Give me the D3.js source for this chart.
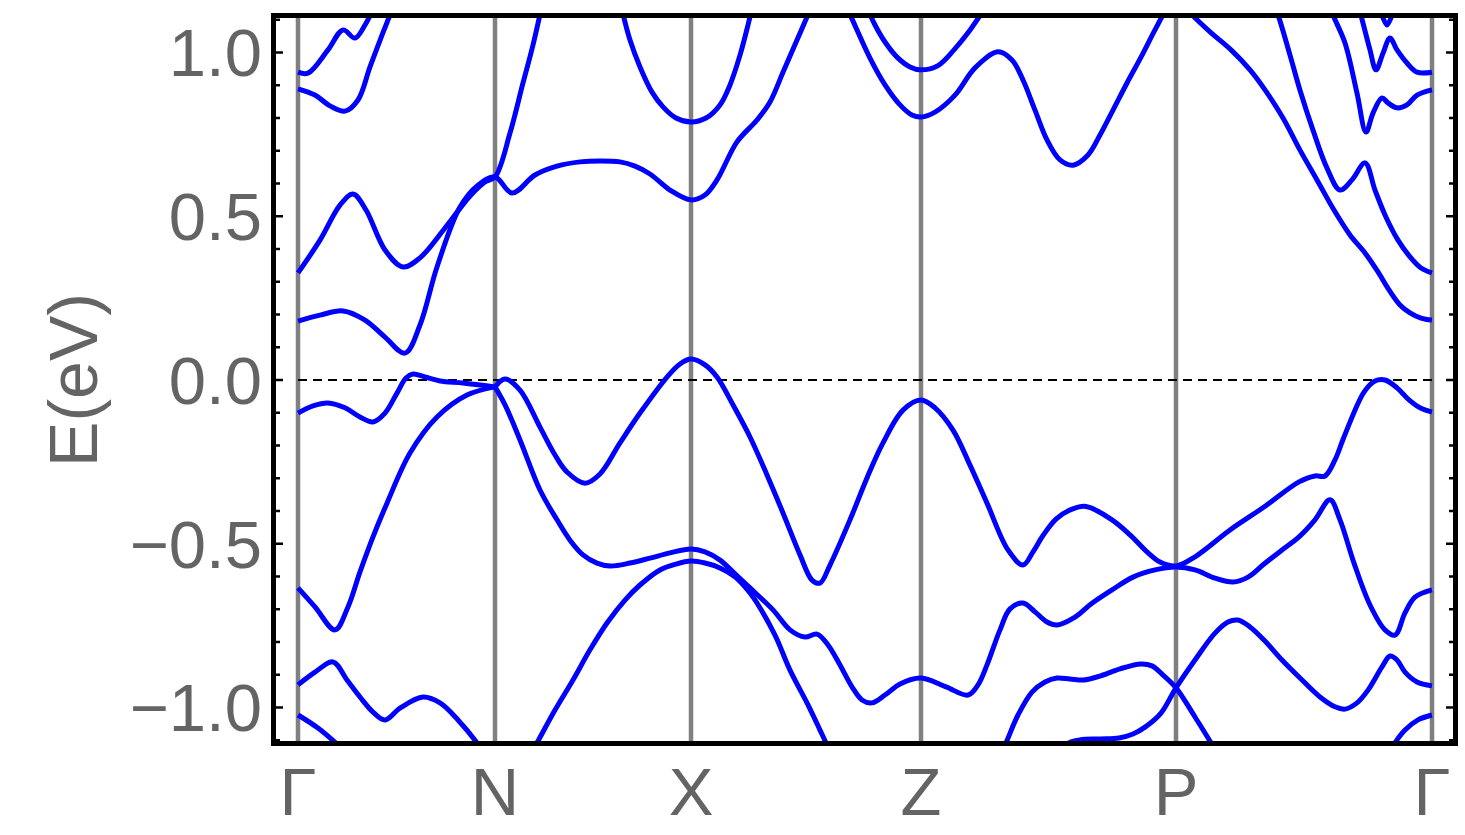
<!DOCTYPE html>
<html>
<head>
<meta charset="utf-8">
<script src="https://cdn.jsdelivr.net/npm/d3@7"></script>
<style>
  html, body { margin: 0; padding: 0; background: #fff; }
  svg { display: block; }
  text { font-family: "Liberation Sans", Arial, sans-serif; }
</style>
</head>
<body>
<script>
// ---------- data (k in path units, E in eV) ----------
const kPoints = [0, 1.97, 3.93, 6.23, 8.78, 11.34];
const kLabels = ["Γ", "N", "X", "Z", "P", "Γ"];
const eTicks = [-1.0, -0.5, 0.0, 0.5, 1.0];
const eTickLabels = ["−1.0", "−0.5", "0.0", "0.5", "1.0"];
const eMinorTicks = [-1.1,-0.9,-0.8,-0.7,-0.6,-0.4,-0.3,-0.2,-0.1,0.1,0.2,0.3,0.4,0.6,0.7,0.8,0.9,1.1];
const fermiLevel = 0.0;

// Γ–N upper bands
const bandA = [[0,0.940],[0.10,0.937],[0.30,1.008],[0.45,1.069],[0.57,1.044],[0.67,1.084],[0.77,1.145]];
const bandB = [[0,0.889],[0.17,0.870],[0.32,0.837],[0.47,0.821],[0.60,0.855],[0.72,0.956],[0.84,1.053],[0.94,1.130]];
const bandC = [[0,0.327],[0.22,0.427],[0.42,0.534],[0.55,0.568],[0.68,0.519],[0.87,0.397],[1.05,0.345],[1.22,0.373],
  [1.47,0.464],[1.72,0.562],[1.87,0.605],[1.97,0.620],[2.12,0.754],[2.25,0.907],[2.35,1.023],[2.43,1.130]];
const bandD = [[0,0.180],[0.22,0.198],[0.45,0.211],[0.67,0.183],[0.87,0.131],[1.07,0.082],[1.22,0.168],[1.39,0.345],
  [1.62,0.528],[1.80,0.595],[1.97,0.620],[2.14,0.571],[2.37,0.626],[2.59,0.653],[2.82,0.666],[3.02,0.669],[3.22,0.666],
  [3.37,0.653],[3.52,0.629],[3.72,0.580],[3.93,0.550],[4.07,0.565],[4.19,0.611],[4.39,0.727],[4.59,0.794],[4.72,0.849],
  [4.85,0.940],[4.99,1.038],[5.12,1.130]];
const bandXpar = [[3.24,1.130],[3.32,1.038],[3.42,0.956],[3.54,0.879],[3.65,0.834],[3.78,0.800],[3.93,0.788],
  [4.08,0.800],[4.22,0.840],[4.32,0.901],[4.42,0.992],[4.50,1.084],[4.54,1.136]];
const bandZup = [[5.70,1.130],[5.77,1.084],[5.87,1.032],[5.99,0.986],[6.12,0.956],[6.23,0.947],[6.40,0.960],
  [6.56,1.008],[6.70,1.060],[6.87,1.136]];
const bandZlo = [[5.50,1.130],[5.59,1.069],[5.72,0.983],[5.87,0.901],[6.02,0.840],[6.14,0.809],[6.23,0.803],
  [6.37,0.818],[6.57,0.870],[6.77,0.953],[7.00,1.002],[7.14,0.977],[7.25,0.916],[7.37,0.824],[7.49,0.733],
  [7.62,0.672],[7.75,0.656],[7.90,0.687],[8.02,0.748],[8.15,0.824],[8.29,0.907],[8.43,0.986],[8.57,1.069],
  [8.68,1.130],[8.78,1.169],[8.94,1.115],[9.12,1.063],[9.33,1.008],[9.52,0.947],[9.67,0.886],[9.85,0.800],
  [10.02,0.702],[10.19,0.611],[10.36,0.519],[10.52,0.443],[10.67,0.388],[10.80,0.330],[10.91,0.275],
  [11.02,0.229],[11.12,0.205],[11.23,0.189],[11.34,0.183]];
const bandPG2 = [[9.74,1.160],[9.80,1.115],[9.92,0.992],[10.02,0.885],[10.15,0.763],[10.29,0.647],[10.42,0.580],
  [10.54,0.611],[10.67,0.663],[10.77,0.580],[10.87,0.504],[11.00,0.427],[11.12,0.376],[11.23,0.342],[11.34,0.327]];
const bandPG3 = [[10.30,1.160],[10.35,1.115],[10.47,1.029],[10.59,0.876],[10.68,0.757],[10.75,0.815],[10.84,0.861],
  [10.90,0.846],[10.99,0.831],[11.09,0.840],[11.19,0.870],[11.34,0.886]];
const bandPG4 = [[10.59,1.160],[10.65,1.090],[10.72,1.008],[10.78,0.947],[10.85,0.998],[10.92,1.044],[10.99,1.008],
  [11.09,0.968],[11.19,0.940],[11.34,0.940]];
const bandPG5 = [[10.81,1.145],[10.89,1.084],[10.97,1.145]];

// lower bands
const bandE = [[0,-0.101],[0.15,-0.079],[0.30,-0.070],[0.47,-0.085],[0.62,-0.113],[0.75,-0.128],[0.87,-0.101],
  [0.99,-0.040],[1.08,0.006],[1.15,0.018],[1.27,0.009],[1.42,-0.003],[1.65,-0.009],[1.97,-0.021]];
const bandF = [[0,-0.635],[0.17,-0.693],[0.37,-0.763],[0.50,-0.693],[0.62,-0.586],[0.75,-0.479],[0.89,-0.376],
  [1.12,-0.223],[1.39,-0.113],[1.69,-0.046],[1.97,-0.021]];
const bandG = [[0,-0.931],[0.17,-0.892],[0.35,-0.861],[0.49,-0.916],[0.62,-0.968],[0.75,-1.014],[0.87,-1.038],
  [1.02,-1.002],[1.25,-0.968],[1.42,-0.986],[1.60,-1.038],[1.79,-1.108],[1.87,-1.145]];
const bandH = [[0,-1.023],[0.20,-1.063],[0.40,-1.115],[0.47,-1.136]];
const bandI = [[1.97,-0.021],[2.07,0.003],[2.22,-0.031],[2.42,-0.144],[2.57,-0.229],[2.69,-0.281],[2.87,-0.315],
  [3.02,-0.287],[3.22,-0.192],[3.42,-0.101],[3.69,0.009],[3.82,0.049],[3.93,0.064],[4.07,0.046],[4.19,0.009],
  [4.35,-0.076],[4.52,-0.174],[4.69,-0.290],[4.85,-0.406],[5.02,-0.534],[5.14,-0.611],[5.22,-0.620],[5.32,-0.565],
  [5.52,-0.427],[5.69,-0.299],[5.85,-0.192],[6.05,-0.092],[6.23,-0.061],[6.37,-0.085],[6.55,-0.153],[6.72,-0.260],
  [6.89,-0.376],[7.10,-0.519],[7.25,-0.565],[7.35,-0.525],[7.45,-0.475],[7.58,-0.425],[7.72,-0.397],[7.88,-0.386],
  [8.14,-0.427],[8.32,-0.473],[8.49,-0.525],[8.62,-0.556],[8.78,-0.568],[8.97,-0.540],[9.32,-0.458],[9.66,-0.388],
  [10.01,-0.311],[10.17,-0.293],[10.27,-0.293],[10.37,-0.244],[10.46,-0.174],[10.66,-0.037],[10.77,-0.003],
  [10.87,0.000],[10.99,-0.024],[11.11,-0.061],[11.22,-0.085],[11.34,-0.098]];
const bandJ = [[1.97,-0.021],[2.07,-0.076],[2.22,-0.183],[2.42,-0.336],[2.59,-0.427],[2.72,-0.489],[2.85,-0.534],
  [2.99,-0.559],[3.12,-0.568],[3.32,-0.559],[3.52,-0.544],[3.72,-0.528],[3.93,-0.516],[4.07,-0.525],[4.22,-0.550],
  [4.37,-0.592],[4.52,-0.635],[4.75,-0.702],[4.92,-0.763],[5.07,-0.785],[5.19,-0.776],[5.30,-0.809],[5.42,-0.870],
  [5.54,-0.937],[5.64,-0.977],[5.74,-0.986],[5.87,-0.962],[6.02,-0.928],[6.23,-0.910],[6.48,-0.937],[6.70,-0.962],
  [6.80,-0.931],[6.89,-0.870],[7.02,-0.763],[7.12,-0.699],[7.25,-0.681],[7.37,-0.708],[7.49,-0.739],[7.59,-0.748],
  [7.77,-0.724],[7.93,-0.684],[8.14,-0.641],[8.35,-0.602],[8.57,-0.580],[8.78,-0.571],[8.97,-0.580],[9.17,-0.605],
  [9.35,-0.617],[9.50,-0.602],[9.66,-0.562],[9.84,-0.519],[10.01,-0.479],[10.17,-0.427],[10.32,-0.366],
  [10.42,-0.427],[10.56,-0.559],[10.72,-0.687],[10.87,-0.763],[10.97,-0.779],[11.07,-0.711],[11.17,-0.663],
  [11.34,-0.641]];
const bandK = [[2.32,-1.145],[2.39,-1.108],[2.57,-1.008],[2.75,-0.916],[2.92,-0.824],[3.09,-0.742],[3.27,-0.672],
  [3.42,-0.626],[3.62,-0.580],[3.78,-0.562],[3.93,-0.553],[4.07,-0.559],[4.22,-0.574],[4.37,-0.601],[4.52,-0.650],
  [4.59,-0.681],[4.77,-0.779],[4.92,-0.886],[5.10,-0.992],[5.22,-1.069],[5.29,-1.115],[5.34,-1.151]];
const bandL = [[7.02,-1.145],[7.08,-1.108],[7.20,-1.023],[7.34,-0.953],[7.47,-0.922],[7.59,-0.910],[7.72,-0.913],
  [7.86,-0.916],[8.02,-0.904],[8.22,-0.882],[8.43,-0.867],[8.54,-0.873],[8.65,-0.901],[8.78,-0.940],[8.97,-1.029],
  [9.13,-1.108],[9.20,-1.145]];
const bandM = [[7.62,-1.145],[7.69,-1.111],[7.82,-1.099],[8.02,-1.096],[8.21,-1.093],[8.35,-1.081],[8.47,-1.060],
  [8.63,-1.017],[8.78,-0.940],[8.97,-0.855],[9.17,-0.773],[9.30,-0.739],[9.40,-0.733],[9.52,-0.754],[9.66,-0.794],
  [9.84,-0.855],[10.01,-0.907],[10.22,-0.968],[10.37,-0.998],[10.47,-1.005],[10.59,-0.986],[10.70,-0.947],
  [10.84,-0.876],[10.92,-0.843],[10.99,-0.855],[11.07,-0.892],[11.19,-0.922],[11.34,-0.934]];
const bandN = [[10.90,-1.145],[10.97,-1.108],[11.07,-1.069],[11.20,-1.038],[11.34,-1.023]];

const bands = [bandA, bandB, bandC, bandD, bandXpar, bandZup, bandZlo, bandPG2, bandPG3, bandPG4, bandPG5,
  bandE, bandF, bandG, bandH, bandI, bandJ, bandK, bandL, bandM, bandN];

// ---------- layout ----------
const W = 1465, H = 835;
const plot = { left: 273.5, right: 1455.5, top: 15.5, bottom: 743.5 };

const x = d3.scaleLinear().domain([-0.245, 11.575]).range([plot.left, plot.right]);
const y = d3.scaleLinear().domain([-1.110, 1.113]).range([plot.bottom, plot.top]);

const svg = d3.select("body").append("svg").attr("width", W).attr("height", H);

svg.append("defs").append("clipPath").attr("id", "clip")
  .append("rect")
  .attr("x", plot.left).attr("y", plot.top)
  .attr("width", plot.right - plot.left).attr("height", plot.bottom - plot.top);

const g = svg.append("g").attr("clip-path", "url(#clip)");

// high-symmetry vertical lines
g.selectAll("line.hs").data(kPoints).join("line")
  .attr("class", "hs")
  .attr("x1", d => x(d)).attr("x2", d => x(d))
  .attr("y1", plot.top).attr("y2", plot.bottom)
  .attr("stroke", "#808080").attr("stroke-width", 4.5);

// Fermi level
g.append("line")
  .attr("x1", x(kPoints[0])).attr("x2", x(kPoints[kPoints.length - 1]))
  .attr("y1", y(fermiLevel)).attr("y2", y(fermiLevel))
  .attr("stroke", "#000").attr("stroke-width", 2.2)
  .attr("stroke-dasharray", "9,6");

// bands
const line = d3.line().x(d => x(d[0])).y(d => y(d[1])).curve(d3.curveCatmullRom.alpha(0.5));
g.selectAll("path.band").data(bands).join("path")
  .attr("class", "band")
  .attr("d", line)
  .attr("fill", "none")
  .attr("stroke", "#0000ff")
  .attr("stroke-width", 5)
  .attr("stroke-linejoin", "round")
  .attr("stroke-linecap", "butt");

// frame ticks (inward, both sides)
const tickG = svg.append("g");
const tickSets = [
  { vals: eTicks, len: 7 },
  { vals: eMinorTicks, len: 4 }
];
tickSets.forEach(ts => {
  tickG.selectAll(null).data(ts.vals).join("line")
    .attr("x1", plot.left).attr("x2", plot.left + 2.5 + ts.len)
    .attr("y1", d => y(d)).attr("y2", d => y(d))
    .attr("stroke", "#000").attr("stroke-width", 2.5);
  tickG.selectAll(null).data(ts.vals).join("line")
    .attr("x1", plot.right).attr("x2", plot.right - 2.5 - ts.len)
    .attr("y1", d => y(d)).attr("y2", d => y(d))
    .attr("stroke", "#000").attr("stroke-width", 2.5);
});

// frame
svg.append("rect")
  .attr("x", plot.left).attr("y", plot.top)
  .attr("width", plot.right - plot.left).attr("height", plot.bottom - plot.top)
  .attr("fill", "none").attr("stroke", "#000").attr("stroke-width", 5);

// y tick labels
const fs = 67;
svg.selectAll("text.ylab").data(eTicks).join("text")
  .attr("class", "ylab")
  .attr("x", 262)
  .attr("y", d => y(d) + fs * 0.358)
  .attr("text-anchor", "end")
  .attr("font-size", fs)
  .attr("fill", "#646464")
  .text((d, i) => eTickLabels[i]);

// x labels
svg.selectAll("text.xlab").data(kPoints).join("text")
  .attr("class", "xlab")
  .attr("x", d => x(d))
  .attr("y", 815)
  .attr("text-anchor", "middle")
  .attr("font-size", fs)
  .attr("fill", "#646464")
  .text((d, i) => kLabels[i]);

// y axis title
svg.append("text")
  .attr("transform", `translate(97, ${y(0)}) rotate(-90)`)
  .attr("text-anchor", "middle")
  .attr("font-size", 68)
  .attr("fill", "#646464")
  .text("E(eV)");
</script>
</body>
</html>
